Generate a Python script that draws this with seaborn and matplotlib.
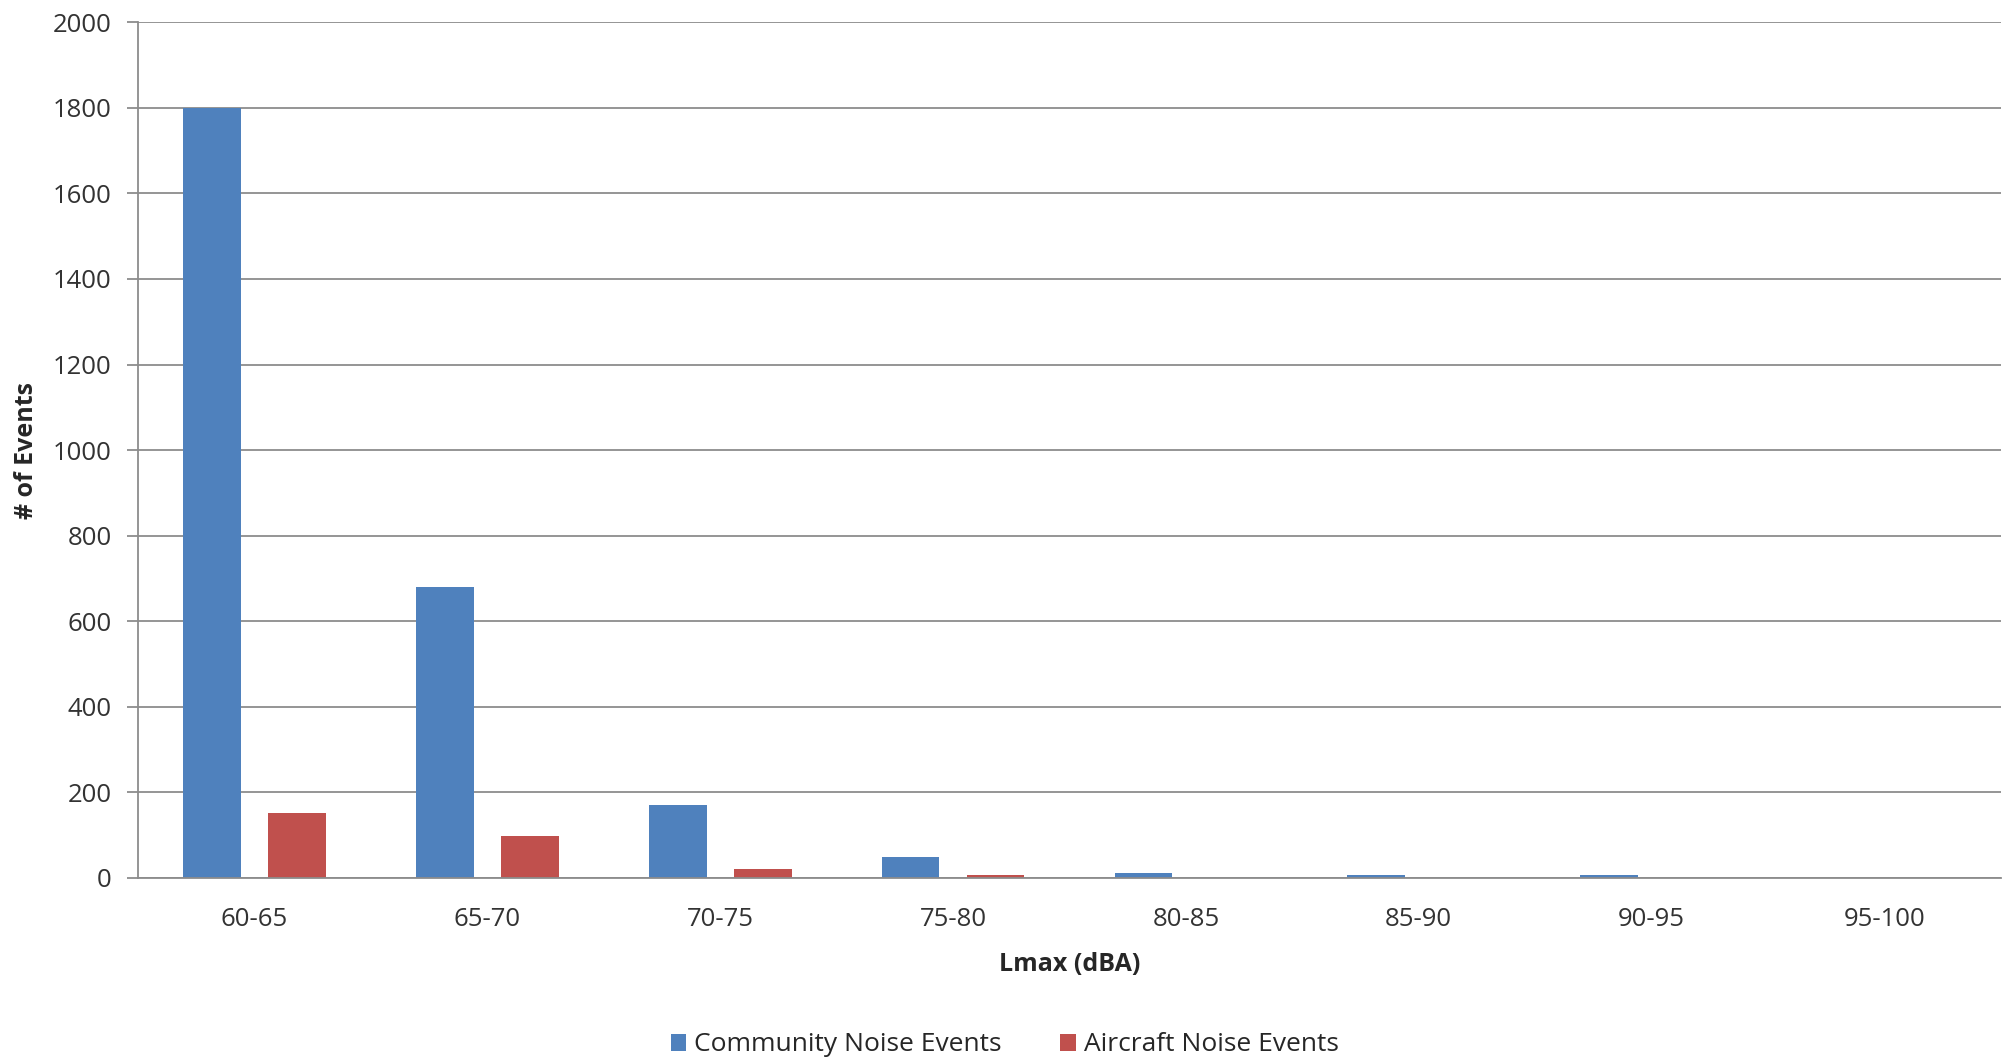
import pandas as pd
import matplotlib.pyplot as plt
import seaborn as sns
import numpy as np

# data
bins = ["60-65", "65-70", "70-75", "75-80", "80-85", "85-90", "90-95", "95-100"]
community = [1800, 680, 170, 48, 12, 6, 6, 0]
aircraft = [152, 98, 22, 6, 0, 0, 0, 0]
series_names = ["Community Noise Events", "Aircraft Noise Events"]
colors = ["#4F81BD", "#C0504D"]
yticks = list(range(0, 2001, 200))

df = pd.DataFrame({
    "Lmax": bins * 2,
    "Events": community + aircraft,
    "Series": [series_names[0]] * len(bins) + [series_names[1]] * len(bins),
})

sns.set_style("white")
plt.rcParams['font.family'] = ['Open Sans', 'DejaVu Sans']

fig, ax = plt.subplots(figsize=(20.09, 10.6), dpi=100)
fig.subplots_adjust(left=0.0687, right=0.996, top=0.979, bottom=0.1717)

sns.barplot(data=df, x="Lmax", y="Events", hue="Series", palette=colors,
            saturation=1, width=0.73, gap=0.32, ax=ax, linewidth=0)

grid_c = "#8c8c8c"
ax.set_ylim(0, 2000)
ax.set_yticks(yticks)
ax.set_xlim(-0.5, len(bins) - 0.5)
ax.set_axisbelow(True)
ax.yaxis.grid(True, color=grid_c, linewidth=1.3)

for s in ["top", "right"]:
    ax.spines[s].set_visible(False)
for s in ["left", "bottom"]:
    ax.spines[s].set_color(grid_c)
    ax.spines[s].set_linewidth(1.3)

# tick marks at category boundaries, like Excel
ax.set_xticks(np.arange(-0.5, len(bins) + 0.5, 1), minor=True)
ax.tick_params(axis="x", which="major", length=0, labelsize=18.5, pad=21, colors="#333333")
ax.tick_params(axis="x", which="minor", length=10, width=1.3, color=grid_c)
ax.tick_params(axis="y", which="major", left=True, length=8, width=1.3, color=grid_c,
               labelsize=18.5, labelcolor="#333333", pad=11)
ax.set_xticklabels(bins)

ax.set_xlabel("Lmax (dBA)", fontsize=18, fontweight="bold", labelpad=14)
ax.set_ylabel("# of Events", fontsize=18, fontweight="bold", labelpad=10)

handles, labels = ax.get_legend_handles_labels()
ax.legend_.remove()
fig.legend(handles, labels, loc="lower center", bbox_to_anchor=(0.5, -0.02), ncol=2,
           frameon=False, fontsize=19, handlelength=0.6, handleheight=0.6,
           handletextpad=0.3, columnspacing=2.2)

fig.savefig("out.png", dpi=100)
